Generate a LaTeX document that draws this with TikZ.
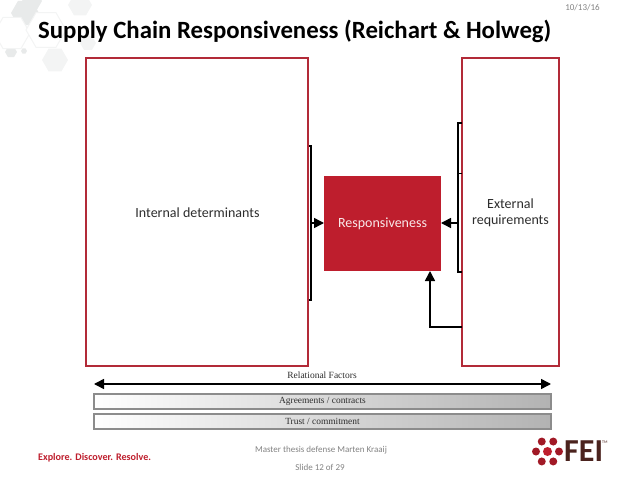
\documentclass[tikz,border=0pt]{standalone}
\usepackage{fontspec}
\setmainfont{Carlito}
\newfontfamily\serifbar{Liberation Serif}
\usetikzlibrary{arrows.meta,positioning,calc}
\definecolor{primary}{RGB}{190,30,45}
\definecolor{boxline}{RGB}{178,42,56}
\definecolor{hexgray}{RGB}{232,234,234}
\definecolor{hexpale}{RGB}{243,244,244}
\definecolor{footgray}{RGB}{130,130,130}
\definecolor{bodytext}{RGB}{45,45,45}
\definecolor{logodark}{RGB}{75,35,30}
\tikzset{
  frame/.style={draw=boxline,line width=2pt,outer sep=0pt,fill=white,anchor=north west,inner sep=0pt},
  boxlabel/.style={text=bodytext,font=\fontsize{14}{16.5}\selectfont,align=center},
  bar/.style={draw=black!45,line width=1.2pt,outer sep=0pt,left color=white,right color=black!30,anchor=north west,minimum width=457pt,minimum height=15pt,inner sep=0pt,text=bodytext,font=\serifbar\fontsize{9.4}{10}\selectfont},
  link/.style={draw=black,line width=1.5pt,-{Triangle[length=10pt,width=10pt]}},
  bracket/.style={draw=black,line width=1.5pt},
  foot/.style={text=footgray,font=\fontsize{9}{10}\selectfont,inner sep=0pt},
  petal/.style={circle,fill=primary!85!black,minimum size=8pt,inner sep=0pt}
}
\begin{document}
\begin{tikzpicture}[x=1pt,y=-1pt]
\useasboundingbox (0,0) rectangle (638,479);
% background hexagons
\foreach \hx/\hy/\hr/\hc in {25/13/14/hexgray,32/1/10/hexgray,80/5/12/hexpale,55/60/13/hexpale,88/43/8/hexpale,11/52/6/hexgray,24/51/3/hexgray}
  \fill[\hc] (\hx,\hy) +(0:\hr) -- +(60:\hr) -- +(120:\hr) -- +(180:\hr) -- +(240:\hr) -- +(300:\hr) -- cycle;
\foreach \hx/\hy/\hr in {12/33/18,46/30/20}
  \draw[hexpale,line width=1pt,fill=white] (\hx,\hy) +(0:\hr) -- +(60:\hr) -- +(120:\hr) -- +(180:\hr) -- +(240:\hr) -- +(300:\hr) -- cycle;
% title and date
\node[anchor=west,inner sep=0pt,font=\bfseries\fontsize{24.8}{28}\selectfont] (title) at (38,31) {Supply Chain Responsiveness (Reichart \& Holweg)};
\node[foot] (date) at (582.5,8) {10/13/16};
% main boxes
\node[frame,minimum width=222pt,minimum height=308pt] (internal) at (86,58) {};
\node[boxlabel] (internallabel) at (197.5,213) {Internal determinants};
\node[frame,minimum width=97pt,minimum height=308pt] (external) at (462,58) {};
\node[boxlabel] (externallabel) at (510.5,213) {External\\requirements};
\node[anchor=north west,fill=primary,text=white!90!primary,outer sep=0pt,minimum width=117pt,minimum height=95pt,inner sep=0pt,font=\fontsize{14}{16.5}\selectfont] (resp) at (324,176) {Responsiveness};
% brackets
\coordinate (leftout) at (310,223);
\coordinate (rightout) at (458,223);
\coordinate (bottomout) at (462,327);
\draw[bracket] (309,146) -- (311,146) -- (311,300) -- (309,300);
\draw[bracket] (462,123) -- (458,123) -- (458,272) -- (462,272);
\draw[bracket,line width=1pt] (458,173) -- (462,173);
\draw[link] (leftout) -- (resp.west |- leftout);
\draw[link] (rightout) -- (resp.east |- rightout);
\draw[link] (bottomout) -| (430,271);
% relational factors
\coordinate (relleft) at (94,384);
\coordinate (relright) at (551,384);
\node[inner sep=0pt,text=bodytext,font=\serifbar\fontsize{9.5}{10}\selectfont] (relational) at (322,375) {Relational Factors};
\draw[line width=1.5pt,{Triangle[length=10pt,width=10pt]}-{Triangle[length=10pt,width=10pt]}] (relleft) -- (relright);
\node[bar] (agreements) at (94,394) {Agreements / contracts};
\node[bar] (trust) at (94,414) {Trust / commitment};
% footer
\node[foot] (thesis) at (321,450) {Master thesis defense Marten Kraaij};
\node[foot] (slide) at (320,467) {Slide 12 of 29};
\node[anchor=west,inner sep=0pt,text=primary,font=\bfseries\fontsize{10.1}{11}\selectfont] (slogan) at (38,458) {Explore. Discover. Resolve.};
% logo
\node[circle,fill=primary,minimum size=9pt,inner sep=0pt] (logocentre) at (547.5,451.5) {};
\foreach \pa in {0,60,...,300}
  \node[petal] at ($(logocentre)+(\pa:11.5)$) {};
\node[anchor=west,inner sep=0pt,text=logodark,font=\bfseries\fontsize{32}{32}\selectfont] (fei) at (564,451.5) {FEI};
\node[anchor=west,inner sep=0pt,text=logodark,font=\fontsize{4}{4}\selectfont] (tm) at (602,442) {TM};
\end{tikzpicture}
\end{document}
